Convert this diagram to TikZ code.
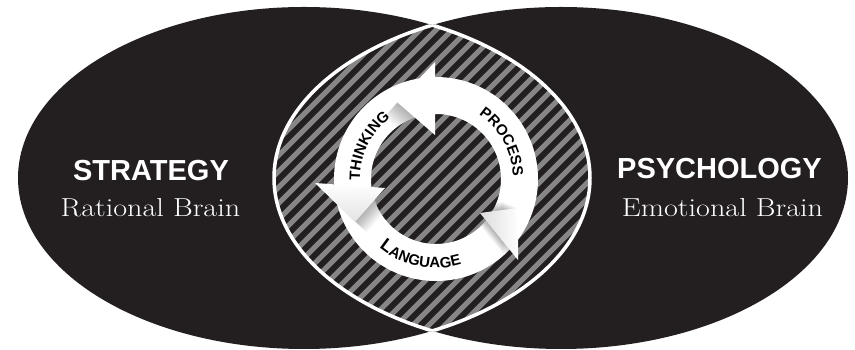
\documentclass[tikz,border=0pt]{standalone}
\usepackage{fontspec}
\newfontfamily\hfont{Liberation Sans}
\usetikzlibrary{decorations.text}
\definecolor{dark}{HTML}{231F20}
\definecolor{stripe}{HTML}{868686}
\newcommand\ringfont{\hfont\bfseries\fontsize{15}{15}\selectfont}
\newcommand\ringfontL{\hfont\bfseries\fontsize{18}{18}\selectfont}
\tikzset{
  head/.style={font=\hfont\bfseries\fontsize{29}{29}\selectfont, text=white, anchor=base, inner sep=0pt},
  sub/.style={font=\fontsize{26}{26}\selectfont, text=white, anchor=base, inner sep=0pt},
  stripeline/.style={stripe, line width=5},
  lensline/.style={white, line width=3.5},
  ringtext/.style={decorate, decoration={text along path, text align=center, text color=black, text={#1}}},
  shadowcopy/.style={fill=black, opacity=0.02}
}
\begin{document}
\begin{tikzpicture}[x=1pt,y=1pt]
\useasboundingbox (0,0) rectangle (855,350);
\coordinate (L) at (304,172);
\coordinate (R) at (561,172);
% ellipses
\fill[dark] (L) ellipse[x radius=286, y radius=171];
\fill[dark] (R) ellipse[x radius=287, y radius=171];
% stripes in the lens
\begin{scope}
  \clip (L) ellipse[x radius=286, y radius=171];
  \clip (R) ellipse[x radius=287, y radius=171];
  \foreach \k in {-30,...,30} \draw[stripeline] (\k*16+232,-28) -- ++(400,400);
\end{scope}
% lens outline
\begin{scope}
  \clip (R) ellipse[x radius=287, y radius=171];
  \draw[lensline] (L) ellipse[x radius=286, y radius=171];
\end{scope}
\begin{scope}
  \clip (L) ellipse[x radius=286, y radius=171];
  \draw[lensline] (R) ellipse[x radius=287, y radius=171];
\end{scope}
% ring
\begin{scope}[shift={(436,171)}]
  \fill[white, even odd rule] (0,0) circle[radius=102] (0,0) circle[radius=65];
  % soft shadows on the ring
  \begin{scope}[even odd rule]
    \clip (0,0) circle[radius=102] (0,0) circle[radius=65];
    \foreach \i in {1,...,16} {
      \fill[shadowcopy, shift={(-\i*0.8,-\i*0.95)}] (-1,117) -- (-1,44) -- (-39,77) -- cycle;
      \fill[shadowcopy, shift={(\i*0.75,-\i*0.65)}] (-121,-4) -- (-51,-9) -- (-81,-43) -- cycle;
      \fill[shadowcopy, shift={(-\i*0.95,\i*0.4)}] (44,-34) -- (82,-81) -- (82,-29) -- cycle;
    }
  \end{scope}
  % arrowheads
  \fill[white] (-1,117) -- (-1,44) -- (-39,77) -- cycle;
  \shade[top color=white, bottom color=gray!22] (-121,-4) -- (-51,-9) -- (-81,-43) -- cycle;
  \shade[left color=gray!28, right color=white] (44,-34) -- (82,-81) -- (82,-29) -- cycle;
  % ring labels
  \path[ringtext={|\ringfont|THINKING}] (185:76) arc[start angle=185, end angle=123, radius=76];
  \path[ringtext={|\ringfont|PROCESS}] (62:77) arc[start angle=62, end angle=-4, radius=77];
  \path[ringtext={|\ringfontL|L|\ringfont|ANGUAGE}] (225:89) arc[start angle=225, end angle=292, radius=89];
\end{scope}
% side labels
\node[head] (strat) at (151,169) {STRATEGY};
\node[sub] (rat) at (150.5,133) {\scalebox{1.16}[1]{Rational Brain}};
\node[head] (psy) at (719.5,171) {PSYCHOLOGY};
\node[sub] (emo) at (722.5,133) {\scalebox{1.16}[1]{Emotional Brain}};
\end{tikzpicture}
\end{document}
